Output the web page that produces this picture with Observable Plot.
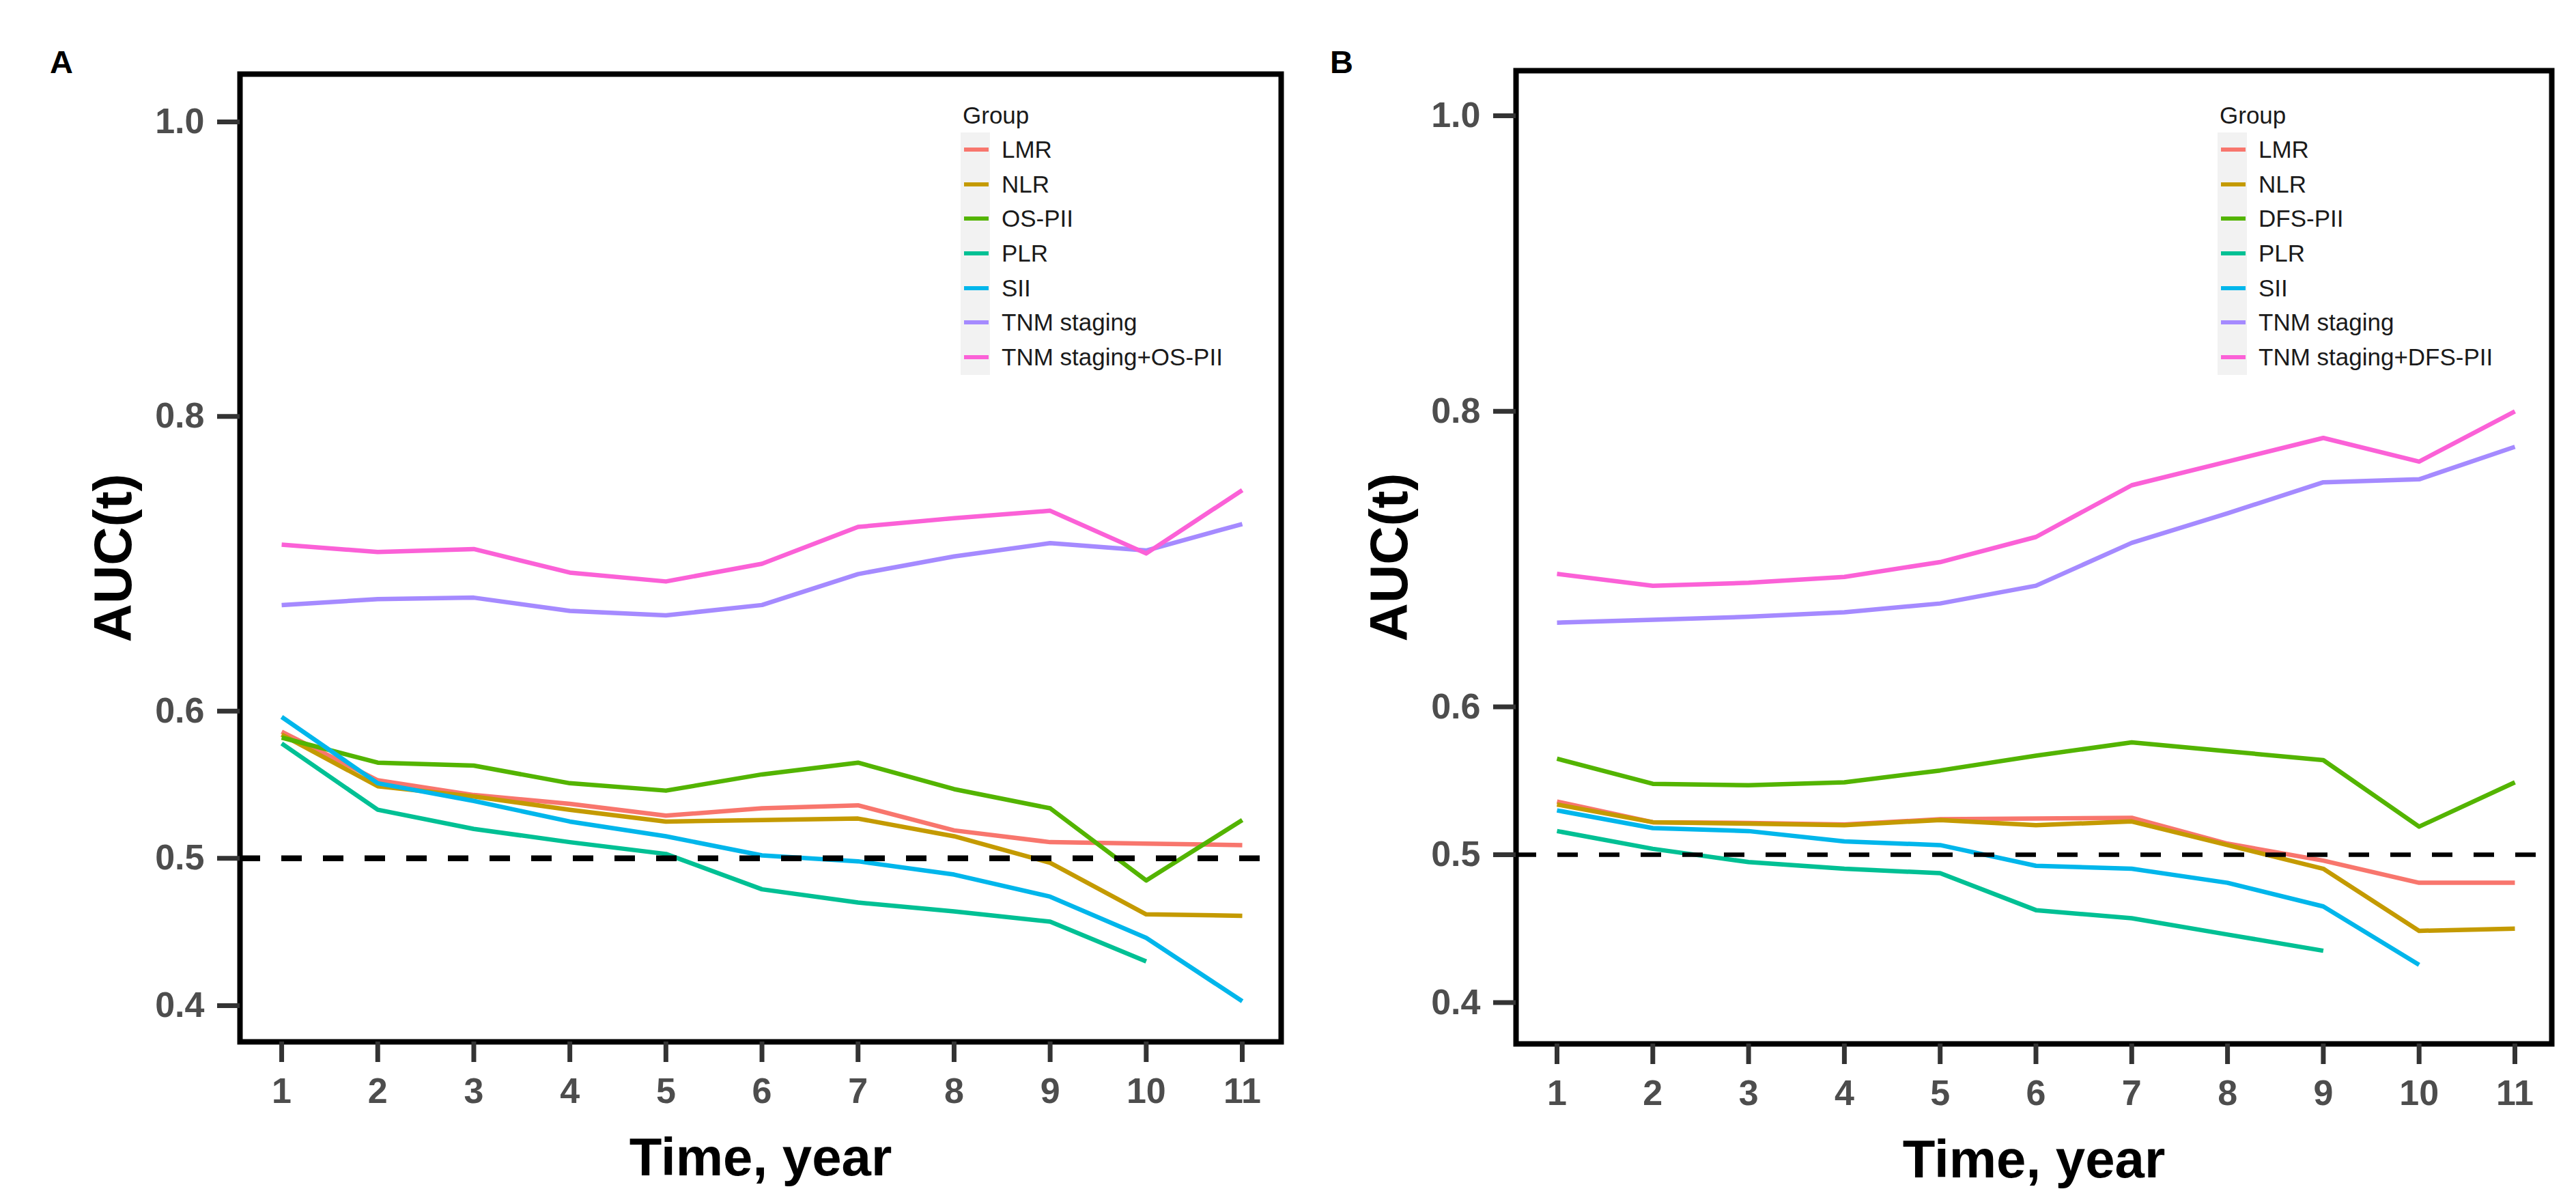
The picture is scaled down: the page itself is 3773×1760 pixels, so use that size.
<!DOCTYPE html>
<html><head><meta charset="utf-8">
<script src="https://cdn.jsdelivr.net/npm/d3@7"></script>
<script src="https://cdn.jsdelivr.net/npm/@observablehq/plot@0.6"></script>
<style>
html,body{margin:0;padding:0;background:#fff;width:3773px;height:1760px;overflow:hidden;font-family:"Liberation Sans",Arial,sans-serif;}
#wrap{position:relative;width:3773px;height:1760px;}
.panel{position:absolute;top:0;}
.plabel{position:absolute;font-size:47px;font-weight:bold;line-height:47px;color:#000;}
.legend{position:absolute;top:144px;font-size:35px;color:#1a1a1a;}
.legend .title{height:50px;line-height:50px;padding-left:3px;white-space:nowrap;}
.legend .row{position:relative;height:50.7px;line-height:50.7px;white-space:nowrap;}
.legend .key{position:absolute;left:0;top:0;width:43px;height:50.7px;background:#f2f2f2;}
.legend .key span{position:absolute;left:5px;top:22px;width:36px;height:6px;}
.legend .lab{position:absolute;left:60px;top:0;}
g[aria-label="x-axis tick label"] text, g[aria-label="y-axis tick label"] text{font-weight:bold;}
</style></head><body><div id="wrap"></div>
<script>
// ---- data ----
const years = [1, 2, 3, 4, 5, 6, 7, 8, 9, 10, 11];
const xTicks = [1, 2, 3, 4, 5, 6, 7, 8, 9, 10, 11];
const yTicks = [0.4, 0.5, 0.6, 0.8, 1.0];
const palette = ["#F8766D", "#C49A00", "#53B400", "#00C094", "#00B6EB", "#A58AFF", "#FB61D7"];

const groupsA = ["LMR", "NLR", "OS-PII", "PLR", "SII", "TNM staging", "TNM staging+OS-PII"];
const a_LMR   = [0.586, 0.553, 0.543, 0.537, 0.529, 0.534, 0.536, 0.519, 0.511, 0.510, 0.509];
const a_NLR   = [0.584, 0.549, 0.542, 0.533, 0.525, 0.526, 0.527, 0.515, 0.497, 0.462, 0.461];
const a_OSPII = [0.582, 0.565, 0.563, 0.551, 0.546, 0.557, 0.565, 0.547, 0.534, 0.485, 0.526];
const a_PLR   = [0.578, 0.533, 0.520, 0.511, 0.503, 0.479, 0.470, 0.464, 0.457, 0.430, null];
const a_SII   = [0.596, 0.551, 0.539, 0.525, 0.515, 0.502, 0.498, 0.489, 0.474, 0.446, 0.403];
const a_TNM   = [0.672, 0.676, 0.677, 0.668, 0.665, 0.672, 0.693, 0.705, 0.714, 0.709, 0.727];
const a_TNMOS = [0.713, 0.708, 0.710, 0.694, 0.688, 0.700, 0.725, 0.731, 0.736, 0.707, 0.750];

const groupsB = ["LMR", "NLR", "DFS-PII", "PLR", "SII", "TNM staging", "TNM staging+DFS-PII"];
const b_LMR    = [0.536, 0.522, 0.5215, 0.5205, 0.524, 0.5245, 0.525, 0.5075, 0.496, 0.481, 0.481];
const b_NLR    = [0.534, 0.522, 0.521, 0.520, 0.5235, 0.520, 0.5225, 0.5065, 0.4905, 0.4485, 0.450];
const b_DFSPII = [0.565, 0.548, 0.547, 0.549, 0.557, 0.567, 0.576, 0.570, 0.564, 0.519, 0.549];
const b_PLR    = [0.516, 0.504, 0.495, 0.4905, 0.4875, 0.4625, 0.457, 0.446, 0.435, null, null];
const b_SII    = [0.530, 0.518, 0.516, 0.509, 0.5065, 0.4925, 0.4905, 0.481, 0.465, 0.4255, null];
const b_TNM    = [0.657, 0.659, 0.661, 0.664, 0.670, 0.682, 0.711, 0.731, 0.752, 0.754, 0.776];
const b_TNMDFS = [0.690, 0.682, 0.684, 0.688, 0.698, 0.715, 0.750, 0.766, 0.782, 0.766, 0.800];

const refLine = [0.5];

function tidy(groups, series) {
  return groups.flatMap((g, i) => years.map((yr, j) => ({group: g, year: yr, auc: series[i][j]})))
    .filter(d => d.auc != null);
}
const dataA = tidy(groupsA, [a_LMR, a_NLR, a_OSPII, a_PLR, a_SII, a_TNM, a_TNMOS]);
const dataB = tidy(groupsB, [b_LMR, b_NLR, b_DFSPII, b_PLR, b_SII, b_TNM, b_TNMDFS]);

const FONT = '"Liberation Sans", Arial, sans-serif';

function chart(cfg) {
  return Plot.plot({
    width: cfg.width, height: 1760,
    marginLeft: cfg.ml, marginRight: cfg.mr, marginTop: cfg.mt, marginBottom: cfg.mb,
    x: {domain: cfg.xd},
    y: {domain: cfg.yd},
    color: {domain: cfg.groups, range: palette},
    style: {fontFamily: FONT, background: "white", overflow: "visible"},
    marks: [
      Plot.line(cfg.data, {x: "year", y: "auc", z: "group", stroke: "group", strokeWidth: 6.5, strokeLinecap: "butt", strokeLinejoin: "round"}),
      Plot.ruleY(refLine, {stroke: "#000", strokeWidth: cfg.dashW, strokeDasharray: "30,31"}),
      Plot.frame({stroke: "#000", strokeWidth: 8}),
      Plot.axisX({ticks: xTicks, tickSize: 30, tickPadding: 23, tickFormat: d => String(d), fontSize: 52, fontWeight: "bold", fill: "#4d4d4d", stroke: "#333", strokeWidth: 7, label: null}),
      Plot.axisY({ticks: yTicks, tickSize: 33, tickPadding: 19, tickFormat: d3.format(".1f"), fontSize: 52, fontWeight: "bold", fill: "#4d4d4d", stroke: "#333", strokeWidth: 7, label: null}),
      Plot.text(["Time, year"], {text: d => d, frameAnchor: "bottom", lineAnchor: "top", dy: 140, fontSize: 78, fontWeight: "bold", fill: "#000"}),
      Plot.text(["AUC(t)"], {text: d => d, frameAnchor: "left", rotate: -90, lineAnchor: "top", textAnchor: "middle", dx: -215, fontSize: 78, fontWeight: "bold", fill: "#000"})
    ]
  });
}

const wrap = document.getElementById("wrap");

function addPanel(left, svg) {
  const d = document.createElement("div");
  d.className = "panel"; d.style.left = left + "px";
  d.appendChild(svg); wrap.appendChild(d);
}
addPanel(0, chart({width: 1886, ml: 351, mr: 10, mt: 108, mb: 235, xd: [0.566, 11.405], yd: [0.37543, 1.03245], groups: groupsA, data: dataA, dashW: 8.5}));
addPanel(1886, chart({width: 1887, ml: 334, mr: 36, mt: 103, mb: 232, xd: [0.5723, 11.385], yd: [0.372, 1.0305], groups: groupsB, data: dataB, dashW: 6.5}));

function addLabel(text, left, top) {
  const d = document.createElement("div");
  d.className = "plabel"; d.textContent = text;
  d.style.left = left + "px"; d.style.top = top + "px";
  wrap.appendChild(d);
}
addLabel("A", 73, 67);
addLabel("B", 1948, 67);

function addLegend(groups, left) {
  const lg = document.createElement("div");
  lg.className = "legend"; lg.style.left = left + "px";
  const t = document.createElement("div"); t.className = "title"; t.textContent = "Group"; lg.appendChild(t);
  groups.forEach((g, i) => {
    const r = document.createElement("div"); r.className = "row";
    const k = document.createElement("div"); k.className = "key";
    const s = document.createElement("span"); s.style.background = palette[i]; k.appendChild(s);
    const l = document.createElement("div"); l.className = "lab"; l.textContent = g;
    r.appendChild(k); r.appendChild(l); lg.appendChild(r);
  });
  wrap.appendChild(lg);
}
addLegend(groupsA, 1407);
addLegend(groupsB, 3248);
</script>
</body></html>
